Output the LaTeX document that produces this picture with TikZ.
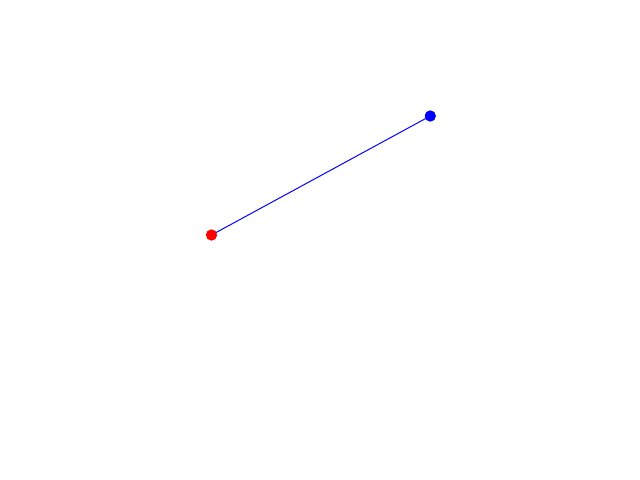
\documentclass[tikz,border=0pt]{standalone}
\begin{document}
\begin{tikzpicture}[x=0.025cm,y=-0.025cm,
  dot/.style={circle,inner sep=0pt,minimum size=0.275cm},
  link/.style={blue,line width=0.7pt}]
\useasboundingbox (0,0) rectangle (640,480);
\node[dot,fill=red] (a) at (211.5,235) {};
\node[dot,fill=blue] (b) at (430.3,116) {};
\draw[link] (a.center) -- (b.center);
\node[dot,fill=red] at (a) {};
\node[dot,fill=blue] at (b) {};
\end{tikzpicture}
\end{document}
